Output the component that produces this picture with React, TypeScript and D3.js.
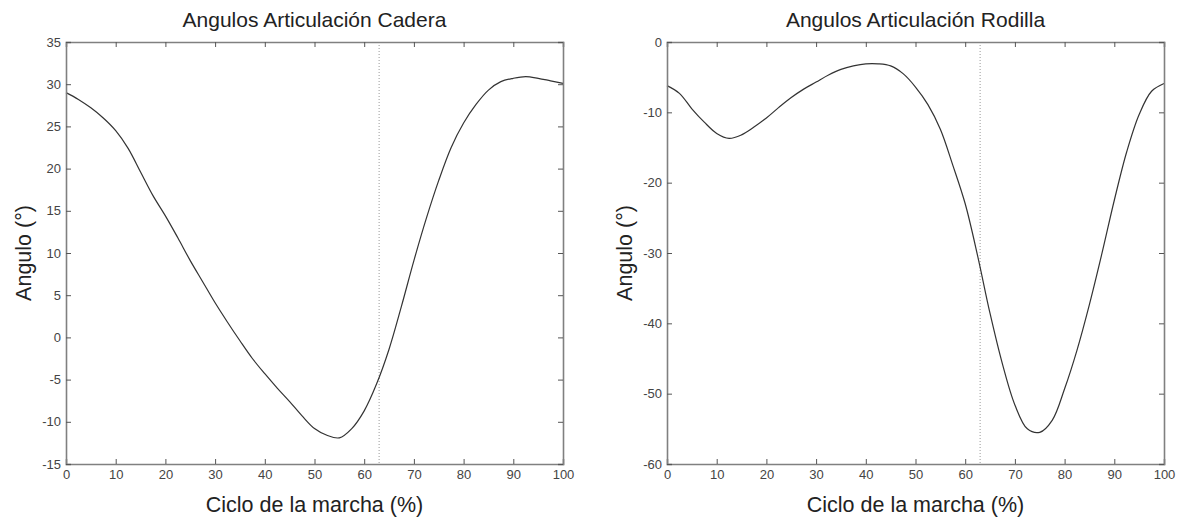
import React, { useEffect, useRef } from 'react';
import * as d3 from 'd3';

// gait cycle (%)
const ciclo = d3.range(0, 100.1, 2.5);

const cadera = [
  29.0, 28.2, 27.2, 26.0, 24.5, 22.4, 19.6, 16.8, 14.4, 11.8,
  9.1, 6.6, 4.1, 1.8, -0.4, -2.5, -4.3, -6.0, -7.6, -9.3,
  -10.8, -11.6, -11.9, -10.8, -8.7, -5.5, -1.4, 3.7, 9.1, 14.1,
  18.6, 22.5, 25.4, 27.6, 29.3, 30.3, 30.7, 30.9, 30.7, 30.4, 30.1,
];

const rodilla = [
  -6.2, -7.3, -9.5, -11.4, -13.0, -13.7, -13.2, -12.1, -10.8, -9.3,
  -7.9, -6.7, -5.7, -4.7, -3.9, -3.4, -3.1, -3.1, -3.4, -4.5,
  -6.4, -8.9, -12.4, -17.5, -23.0, -30.4, -38.6, -45.8, -51.6, -55.0,
  -55.5, -53.8, -49.3, -43.8, -37.3, -30.1, -22.5, -15.6, -10.3, -7.0, -5.9,
];

const xTicks = [0, 10, 20, 30, 40, 50, 60, 70, 80, 90, 100];
const caderaTicks = [-15, -10, -5, 0, 5, 10, 15, 20, 25, 30, 35];
const rodillaTicks = [-60, -50, -40, -30, -20, -10, 0];
const toeOff = 63;

const panels = [
  { title: 'Angulos Articulación Cadera', values: cadera, yTicks: caderaTicks, left: 66, ylabX: 23 },
  { title: 'Angulos Articulación Rodilla', values: rodilla, yTicks: rodillaTicks, left: 667, ylabX: 624 },
];

const App = () => {
  const svgRef = useRef(null);

  useEffect(() => {
    const svg = d3.select(svgRef.current);
    svg.selectAll('*').remove();

    const top = 42;
    const bottom = 464;
    const w = 497;
    const font = 'Liberation Sans, Arial, sans-serif';
    const axisColor = '#808080';

    panels.forEach(p => {
      const x = d3.scaleLinear().domain([0, 100]).range([p.left, p.left + w]);
      const y = d3.scaleLinear()
        .domain([p.yTicks[0], p.yTicks[p.yTicks.length - 1]])
        .range([bottom, top]);

      const g = svg.append('g');

      // dotted vertical marker
      g.append('line')
        .attr('x1', x(toeOff)).attr('x2', x(toeOff))
        .attr('y1', top).attr('y2', bottom)
        .attr('stroke', '#999')
        .attr('stroke-width', 1)
        .attr('stroke-dasharray', '1,2');

      // curve
      const line = d3.line()
        .x((d, i) => x(ciclo[i]))
        .y(d => y(d))
        .curve(d3.curveCatmullRom);
      g.append('path')
        .attr('d', line(p.values))
        .attr('fill', 'none')
        .attr('stroke', '#333')
        .attr('stroke-width', 1.2);

      // box with inward ticks (matlab style)
      const tickLen = 5;
      const fmt = d => String(d);
      g.append('g').attr('transform', `translate(0,${bottom})`)
        .call(d3.axisBottom(x).tickValues(xTicks).tickSize(-tickLen).tickPadding(6).tickFormat(fmt));
      g.append('g').attr('transform', `translate(0,${top})`)
        .call(d3.axisTop(x).tickValues(xTicks).tickSize(-tickLen).tickFormat(() => ''));
      g.append('g').attr('transform', `translate(${p.left},0)`)
        .call(d3.axisLeft(y).tickValues(p.yTicks).tickSize(-tickLen).tickPadding(5).tickFormat(fmt));
      g.append('g').attr('transform', `translate(${p.left + w},0)`)
        .call(d3.axisRight(y).tickValues(p.yTicks).tickSize(-tickLen).tickFormat(() => ''));

      g.selectAll('.domain').attr('stroke', axisColor).attr('stroke-width', 1.6);
      g.selectAll('.tick line').attr('stroke', '#555');
      g.selectAll('.tick text')
        .attr('fill', '#444')
        .style('font-family', font)
        .style('font-size', '13px');

      // title and labels
      g.append('text')
        .attr('x', x(50)).attr('y', 27)
        .attr('text-anchor', 'middle')
        .style('font-family', font)
        .style('font-size', '21px')
        .attr('fill', '#222')
        .text(p.title);

      g.append('text')
        .attr('x', x(50)).attr('y', 512)
        .attr('text-anchor', 'middle')
        .style('font-family', font)
        .style('font-size', '21.5px')
        .attr('fill', '#222')
        .text('Ciclo de la marcha (%)');

      g.append('text')
        .attr('transform', `translate(${p.ylabX},${(top + bottom) / 2}) rotate(-90)`)
        .attr('text-anchor', 'middle')
        .attr('dy', '0.35em')
        .style('font-family', font)
        .style('font-size', '21.5px')
        .attr('fill', '#222')
        .text('Angulo (°)');
    });
  }, []);

  return (
    <svg ref={svgRef} width={1185} height={520}
      style={{ position: 'absolute', left: 0, top: 0, background: '#fff' }}></svg>
  );
};

export default App;
